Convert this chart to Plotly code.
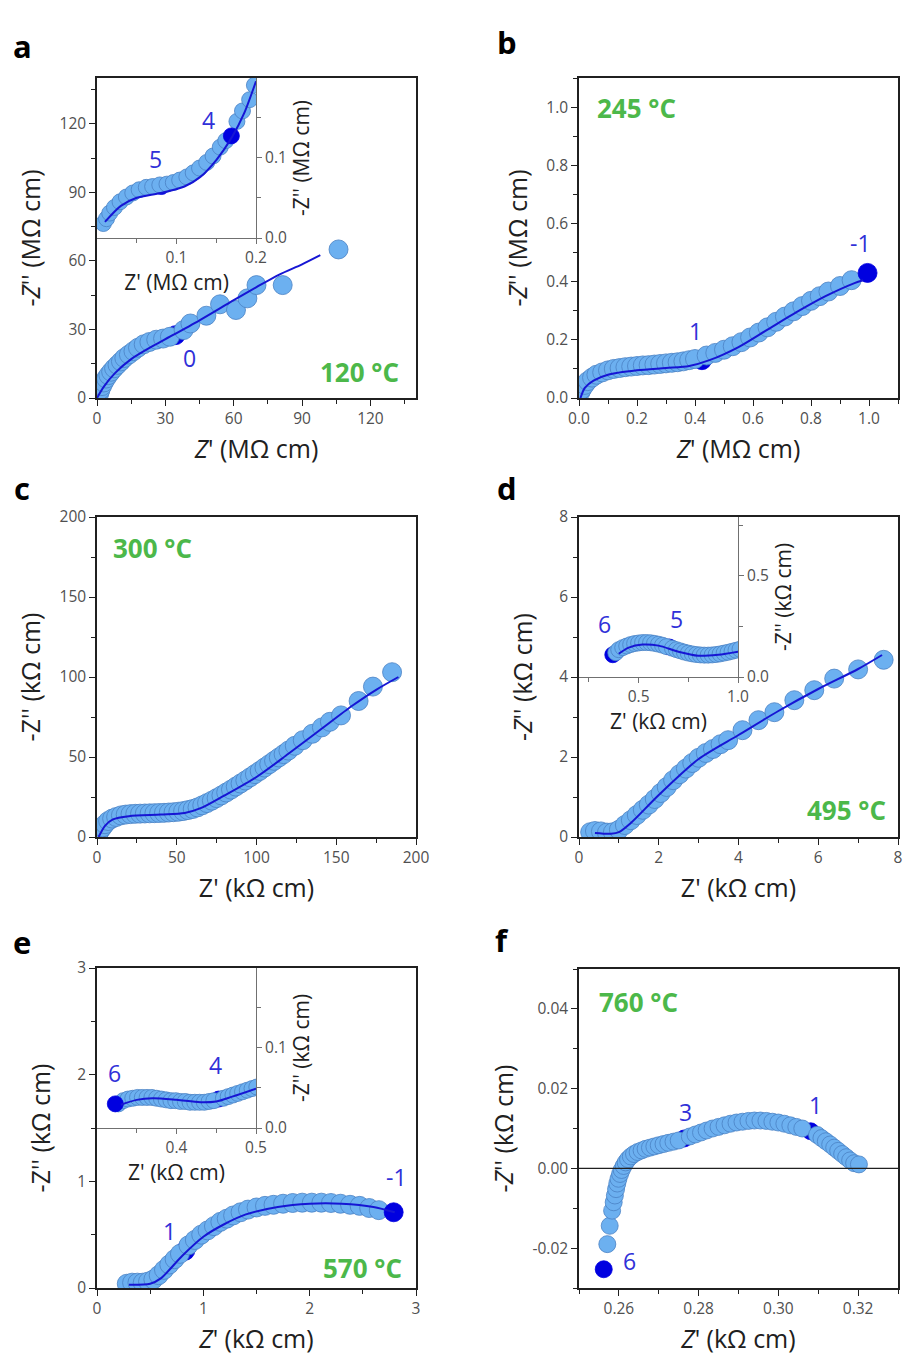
import plotly.graph_objects as go

W, H = 904, 1358

# ---------------- DATA ----------------
# Panel a (120 °C), MΩ cm
a_x = [1.0, 1.5, 2.2, 3.0, 4.0, 5.0, 6.2, 7.5, 9.0, 10.5, 12.0, 14.0, 16.0, 18.0, 20.5, 23.0, 26.0, 29.0, 32.0, 38.0, 41.0, 48.0, 54.0, 61.0, 66.0, 70.0, 81.5, 106.0]
a_y = [2.0, 3.5, 5.2, 6.8, 8.5, 10.0, 11.5, 13.0, 14.5, 16.0, 17.5, 19.0, 20.5, 22.0, 23.5, 24.5, 25.5, 26.0, 26.8, 29.7, 32.6, 36.0, 41.0, 38.5, 43.6, 49.4, 49.4, 65.0]
a_fit_x = [0, 3, 8, 15, 25, 32, 45, 60, 70, 80, 90, 98]
a_fit_y = [0, 5, 11, 17, 23, 26.8, 34, 42.8, 48.5, 54, 58.5, 62.5]
a_dec_x = [34.5]
a_dec_y = [27.5]
a_in_x = [0.008, 0.012, 0.016, 0.022, 0.029, 0.037, 0.045, 0.053, 0.062, 0.070, 0.079, 0.088, 0.096, 0.104, 0.113, 0.121, 0.129, 0.138, 0.146, 0.155, 0.162, 0.176, 0.183, 0.192, 0.198]
a_in_y = [0.018, 0.024, 0.031, 0.038, 0.045, 0.051, 0.056, 0.060, 0.063, 0.064, 0.066, 0.067, 0.069, 0.072, 0.076, 0.081, 0.087, 0.094, 0.102, 0.113, 0.121, 0.145, 0.158, 0.172, 0.190]
a_in_fit_x = [0.01, 0.03, 0.05, 0.08, 0.11, 0.13, 0.15, 0.17, 0.185, 0.2]
a_in_fit_y = [0.02, 0.04, 0.05, 0.056, 0.064, 0.076, 0.097, 0.126, 0.155, 0.195]
a_in_dec_x = [0.081]
a_in_dec_y = [0.064]
a_in_end_x = [0.169]
a_in_end_y = [0.127]

# Panel b (245 °C), MΩ cm
b_x = [0.005, 0.01, 0.02, 0.03, 0.045, 0.06, 0.08, 0.10, 0.12, 0.14, 0.16, 0.18, 0.20, 0.22, 0.24, 0.26, 0.28, 0.30, 0.32, 0.34, 0.36, 0.38, 0.40, 0.44, 0.47, 0.50, 0.53, 0.56, 0.59, 0.62, 0.65, 0.68, 0.71, 0.74, 0.77, 0.80, 0.83, 0.86, 0.90, 0.94]
b_y = [0.020, 0.030, 0.045, 0.058, 0.070, 0.080, 0.088, 0.095, 0.100, 0.103, 0.106, 0.108, 0.110, 0.112, 0.113, 0.115, 0.117, 0.119, 0.121, 0.123, 0.126, 0.130, 0.134, 0.146, 0.155, 0.166, 0.178, 0.192, 0.208, 0.225, 0.243, 0.262, 0.280, 0.298, 0.316, 0.334, 0.350, 0.366, 0.385, 0.405]
b_fit_x = [0.005, 0.02, 0.05, 0.10, 0.20, 0.30, 0.38, 0.45, 0.55, 0.65, 0.75, 0.85, 0.95, 0.98]
b_fit_y = [0.0, 0.035, 0.060, 0.080, 0.095, 0.103, 0.110, 0.130, 0.175, 0.235, 0.295, 0.350, 0.395, 0.405]
b_dec_x = [0.424]
b_dec_y = [0.130]
b_end_x = [0.995]
b_end_y = [0.430]

# Panel c (300 °C), kΩ cm
c_x = [1, 2, 3.5, 5, 7, 9.5, 12, 15, 18, 21, 24, 27, 30, 33, 36, 39, 42, 45, 48, 51, 54, 57, 60, 63, 66, 69, 72, 75, 78, 81, 84, 87, 90, 93, 96, 99, 102, 105, 108, 111, 114, 117, 120, 124, 129, 135, 141, 146, 153, 164, 173, 185]
c_y = [2, 4, 6, 8, 10, 11.5, 12.5, 13.5, 14, 14.3, 14.5, 14.6, 14.7, 14.8, 14.9, 15, 15.1, 15.3, 15.5, 15.8, 16.2, 16.8, 17.5, 18.5, 19.8, 21.2, 22.7, 24.3, 26, 27.8, 29.6, 31.5, 33.4, 35.3, 37.3, 39.3, 41.3, 43.4, 45.5, 47.6, 49.7, 51.8, 54, 57, 60.5, 64.5, 68.5, 72, 76, 85, 94, 103]
c_fit_x = [1, 5, 10, 20, 40, 55, 65, 80, 100, 120, 140, 160, 175, 189]
c_fit_y = [0, 7, 11, 13, 14, 15, 18, 26, 37.5, 52, 67, 82, 92, 100]

# Panel d (495 °C), kΩ cm
d_x = [0.28, 0.40, 0.55, 0.70, 0.85, 1.00, 1.15, 1.30, 1.45, 1.60, 1.75, 1.90, 2.05, 2.20, 2.36, 2.52, 2.68, 2.84, 3.00, 3.18, 3.36, 3.55, 3.74, 4.10, 4.50, 4.90, 5.40, 5.90, 6.40, 7.00, 7.64]
d_y = [0.12, 0.15, 0.14, 0.11, 0.12, 0.18, 0.30, 0.42, 0.55, 0.68, 0.81, 0.95, 1.10, 1.25, 1.42, 1.57, 1.71, 1.85, 1.98, 2.10, 2.20, 2.32, 2.42, 2.67, 2.92, 3.12, 3.42, 3.67, 3.96, 4.19, 4.43]
d_fit_x = [0.4, 0.8, 1.0, 1.3, 2.0, 3.0, 4.0, 5.0, 6.0, 7.0, 7.6]
d_fit_y = [0.10, 0.08, 0.12, 0.35, 1.05, 1.95, 2.55, 3.15, 3.70, 4.20, 4.55]
d_in_x = [0.385, 0.40, 0.42, 0.44, 0.46, 0.48, 0.50, 0.52, 0.54, 0.56, 0.58, 0.60, 0.62, 0.64, 0.67, 0.69, 0.71, 0.73, 0.75, 0.77, 0.79, 0.81, 0.83, 0.85, 0.87, 0.89, 0.91, 0.93, 0.95, 0.97, 0.99, 1.01]
d_in_y = [0.120, 0.135, 0.145, 0.153, 0.160, 0.165, 0.168, 0.170, 0.170, 0.169, 0.166, 0.162, 0.157, 0.150, 0.142, 0.135, 0.129, 0.123, 0.118, 0.114, 0.111, 0.109, 0.108, 0.108, 0.109, 0.111, 0.114, 0.118, 0.122, 0.127, 0.132, 0.137]
d_in_fit_x = [0.40, 0.45, 0.52, 0.60, 0.70, 0.80, 0.90, 1.00]
d_in_fit_y = [0.115, 0.145, 0.160, 0.155, 0.125, 0.105, 0.110, 0.125]
d_in_dec_x = [0.655]
d_in_dec_y = [0.148]
d_in_end_x = [0.37]
d_in_end_y = [0.11]

# Panel e (570 °C), kΩ cm
e_x = [0.28, 0.33, 0.38, 0.43, 0.48, 0.53, 0.58, 0.63, 0.68, 0.73, 0.78, 0.86, 0.92, 0.98, 1.04, 1.10, 1.16, 1.22, 1.28, 1.35, 1.42, 1.50, 1.58, 1.66, 1.75, 1.84, 1.93, 2.02, 2.11, 2.20, 2.29, 2.38, 2.47, 2.56, 2.65]
e_y = [0.04, 0.05, 0.05, 0.05, 0.06, 0.08, 0.12, 0.17, 0.22, 0.27, 0.32, 0.40, 0.45, 0.50, 0.54, 0.58, 0.62, 0.65, 0.68, 0.71, 0.735, 0.755, 0.77, 0.78, 0.79, 0.797, 0.80, 0.80, 0.80, 0.797, 0.79, 0.78, 0.77, 0.75, 0.73]
e_fit_x = [0.3, 0.5, 0.6, 0.8, 1.0, 1.2, 1.4, 1.7, 2.0, 2.3, 2.6, 2.8]
e_fit_y = [0.03, 0.04, 0.09, 0.30, 0.48, 0.60, 0.69, 0.76, 0.79, 0.79, 0.76, 0.71]
e_dec_x = [0.83]
e_dec_y = [0.35]
e_end_x = [2.79]
e_end_y = [0.71]
e_in_x = [0.327, 0.333, 0.339, 0.345, 0.351, 0.357, 0.363, 0.369, 0.375, 0.381, 0.387, 0.393, 0.399, 0.405, 0.411, 0.417, 0.423, 0.429, 0.435, 0.441, 0.447, 0.459, 0.465, 0.471, 0.477, 0.483, 0.489, 0.495, 0.501]
e_in_y = [0.030, 0.034, 0.036, 0.037, 0.038, 0.038, 0.038, 0.038, 0.037, 0.036, 0.035, 0.034, 0.034, 0.033, 0.033, 0.032, 0.032, 0.032, 0.032, 0.033, 0.034, 0.037, 0.039, 0.041, 0.043, 0.045, 0.047, 0.049, 0.051]
e_in_fit_x = [0.33, 0.35, 0.37, 0.40, 0.43, 0.45, 0.47, 0.50]
e_in_fit_y = [0.029, 0.035, 0.037, 0.035, 0.032, 0.033, 0.039, 0.049]
e_in_dec_x = [0.453]
e_in_dec_y = [0.036]
e_in_end_x = [0.323]
e_in_end_y = [0.030]

# Panel f (760 °C), kΩ cm
f_x = [0.2571, 0.2577, 0.2583, 0.2587, 0.2590, 0.2593, 0.2596, 0.2599, 0.2603, 0.2607, 0.2612, 0.2617, 0.2623, 0.2630, 0.2638, 0.2647, 0.2657, 0.2667, 0.2678, 0.2689, 0.2700, 0.2712, 0.2724, 0.2737, 0.2750, 0.2778, 0.2792, 0.2806, 0.2820, 0.2835, 0.2850, 0.2865, 0.2880, 0.2895, 0.2910, 0.2925, 0.2940, 0.2955, 0.2970, 0.2985, 0.3000, 0.3015, 0.3030, 0.3045, 0.3060, 0.3097, 0.3108, 0.3119, 0.3130, 0.3140, 0.3150, 0.3160, 0.3170, 0.3180, 0.3190, 0.3202]
f_y = [-0.0190, -0.0144, -0.0106, -0.0085, -0.0068, -0.0052, -0.0038, -0.0026, -0.0014, -0.0004, 0.0006, 0.0015, 0.0023, 0.0030, 0.0036, 0.0041, 0.0045, 0.0049, 0.0052, 0.0055, 0.0058, 0.0061, 0.0064, 0.0067, 0.0070, 0.0080, 0.0085, 0.0090, 0.0095, 0.0100, 0.0104, 0.0108, 0.0112, 0.0115, 0.0117, 0.0119, 0.0120, 0.0120, 0.0119, 0.0117, 0.0115, 0.0112, 0.0108, 0.0104, 0.0100, 0.0084, 0.0076, 0.0068, 0.0060, 0.0052, 0.0044, 0.0036, 0.0028, 0.0020, 0.0013, 0.0010]
f_dec_x = [0.2764, 0.3081]
f_dec_y = [0.0075, 0.0093]
f_end_x = [0.2562]
f_end_y = [-0.0253]

# ---------------- STYLE ----------------
LIGHT = "#6cb0f0"
LIGHT_EDGE = "#4a82c4"
DARK = "#0000e0"
FIT = "#1616d4"
NUM = "#3030d8"
GREEN = "#4cb84a"
FONT = "Open Sans"

fig = go.Figure()


def dom(px0, px1, total, flip=False):
    if flip:
        return [1 - px1 / total, 1 - px0 / total]
    return [px0 / total, px1 / total]


def add_set(xa, ya, xs, ys, kind, size=19):
    if kind == "light":
        fig.add_trace(go.Scatter(x=xs, y=ys, xaxis=xa, yaxis=ya, mode="markers",
                                 marker=dict(size=size, color=LIGHT, line=dict(color=LIGHT_EDGE, width=0.8)),
                                 showlegend=False, hoverinfo="skip"))
    elif kind == "dark":
        fig.add_trace(go.Scatter(x=xs, y=ys, xaxis=xa, yaxis=ya, mode="markers",
                                 marker=dict(size=size, color=DARK, line=dict(color=DARK, width=0.8)),
                                 showlegend=False, hoverinfo="skip"))
    elif kind == "fit":
        fig.add_trace(go.Scatter(x=xs, y=ys, xaxis=xa, yaxis=ya, mode="lines",
                                 line=dict(color=FIT, width=2, shape="spline", smoothing=0.8),
                                 showlegend=False, hoverinfo="skip"))


MS = 19   # main marker size
IS = 16   # inset marker size
FS = 17   # panel f marker size

# panel a
add_set("x", "y", a_dec_x, a_dec_y, "dark", MS)
add_set("x", "y", a_x, a_y, "light", MS)
add_set("x", "y", a_fit_x, a_fit_y, "fit")
add_set("x7", "y7", a_in_dec_x, a_in_dec_y, "dark", IS)
add_set("x7", "y7", a_in_x, a_in_y, "light", IS)
add_set("x7", "y7", a_in_end_x, a_in_end_y, "dark", IS)
add_set("x7", "y7", a_in_fit_x, a_in_fit_y, "fit")
# panel b
add_set("x2", "y2", b_dec_x, b_dec_y, "dark", MS)
add_set("x2", "y2", b_x, b_y, "light", MS)
add_set("x2", "y2", b_end_x, b_end_y, "dark", MS)
add_set("x2", "y2", b_fit_x, b_fit_y, "fit")
# panel c
add_set("x3", "y3", c_x, c_y, "light", MS)
add_set("x3", "y3", c_fit_x, c_fit_y, "fit")
# panel d
add_set("x4", "y4", d_x, d_y, "light", MS)
add_set("x4", "y4", d_fit_x, d_fit_y, "fit")
add_set("x8", "y8", d_in_dec_x, d_in_dec_y, "dark", IS)
add_set("x8", "y8", d_in_end_x, d_in_end_y, "dark", IS)
add_set("x8", "y8", d_in_x, d_in_y, "light", IS)
add_set("x8", "y8", d_in_fit_x, d_in_fit_y, "fit")
# panel e
add_set("x5", "y5", e_dec_x, e_dec_y, "dark", MS)
add_set("x5", "y5", e_x, e_y, "light", MS)
add_set("x5", "y5", e_end_x, e_end_y, "dark", MS)
add_set("x5", "y5", e_fit_x, e_fit_y, "fit")
add_set("x9", "y9", e_in_dec_x, e_in_dec_y, "dark", IS)
add_set("x9", "y9", e_in_x, e_in_y, "light", IS)
add_set("x9", "y9", e_in_end_x, e_in_end_y, "dark", IS)
add_set("x9", "y9", e_in_fit_x, e_in_fit_y, "fit")
# panel f
add_set("x6", "y6", f_dec_x, f_dec_y, "dark", FS)
add_set("x6", "y6", f_x, f_y, "light", FS)
add_set("x6", "y6", f_end_x, f_end_y, "dark", FS)

TICKFONT = dict(family=FONT, size=15.5, color="#505050")
TITLEFONT = dict(family=FONT, size=25, color="#202020")


def main_axis(rng, dtick, minor, dom_px, total, flip, title, standoff, tickvals=None, ticktext=None, fmt=None):
    ax = dict(range=rng, domain=dom(dom_px[0], dom_px[1], total, flip), automargin=False,
              showline=True, linecolor="#202020", linewidth=1.5, mirror=True,
              ticks="outside", ticklen=6, tickwidth=1.3, tickcolor="#202020",
              minor=dict(dtick=minor, ticks="outside", ticklen=4, tickwidth=1.2, tickcolor="#202020"),
              showgrid=False, zeroline=False, tickfont=TICKFONT,
              title=dict(text=title, font=TITLEFONT, standoff=standoff))
    if tickvals is not None:
        ax["tickmode"] = "array"
        ax["tickvals"] = tickvals
        ax["ticktext"] = ticktext
    else:
        ax["dtick"] = dtick
        ax["tick0"] = 0
    if fmt:
        ax["tickformat"] = fmt
    return ax


def inset_axis(rng, tickvals, ticktext, minor, dom_px, total, flip, title, side, anchor, standoff):
    return dict(range=rng, domain=dom(dom_px[0], dom_px[1], total, flip), automargin=False,
                showline=True, linecolor="#707070", linewidth=1, mirror=False,
                ticks="outside", ticklen=5, tickwidth=1, tickcolor="#707070",
                tickmode="array", tickvals=tickvals, ticktext=ticktext,
                minor=dict(tickvals=minor, ticks="outside", ticklen=4, tickwidth=1, tickcolor="#707070"),
                showgrid=False, zeroline=False, tickfont=TICKFONT, side=side, anchor=anchor,
                title=dict(text=title, font=dict(family=FONT, size=21, color="#202020"), standoff=standoff))


Mo = "MΩ cm"
ko = "kΩ cm"
layout = dict(width=W, height=H, margin=dict(l=0, r=0, t=0, b=0, pad=0, autoexpand=False),
              paper_bgcolor="white", plot_bgcolor="rgba(0,0,0,0)", showlegend=False)

XS = 12  # x-title standoff
YS = 12  # y-title standoff

# main axes
layout["xaxis"] = main_axis([0, 140], 30, 15, (97, 416), W, False, f"<i>Z</i>' ({Mo})", XS)
layout["yaxis"] = main_axis([0, 140], 30, 15, (78, 398), H, True, f"-<i>Z</i>'' ({Mo})", YS)
layout["xaxis"]["anchor"] = "y"; layout["yaxis"]["anchor"] = "x"

layout["xaxis2"] = main_axis([0, 1.1], 0.2, 0.1, (579, 898), W, False, f"<i>Z</i>' ({Mo})", XS, fmt=".1f")
layout["yaxis2"] = main_axis([0, 1.1], 0.2, 0.1, (78, 398), H, True, f"-<i>Z</i>'' ({Mo})", YS, fmt=".1f")
layout["xaxis2"]["anchor"] = "y2"; layout["yaxis2"]["anchor"] = "x2"

layout["xaxis3"] = main_axis([0, 200], 50, 25, (97, 416), W, False, f"Z' ({ko})", XS)
layout["yaxis3"] = main_axis([0, 200], 50, 25, (517, 837), H, True, f"-Z'' ({ko})", YS)
layout["xaxis3"]["anchor"] = "y3"; layout["yaxis3"]["anchor"] = "x3"

layout["xaxis4"] = main_axis([0, 8], 2, 1, (579, 898), W, False, f"Z' ({ko})", XS)
layout["yaxis4"] = main_axis([0, 8], 2, 1, (517, 837), H, True, f"-<i>Z</i>'' ({ko})", YS + 8)
layout["xaxis4"]["anchor"] = "y4"; layout["yaxis4"]["anchor"] = "x4"

layout["xaxis5"] = main_axis([0, 3], 1, 0.5, (97, 416), W, False, f"<i>Z</i>' ({ko})", XS)
layout["yaxis5"] = main_axis([0, 3], 1, 0.5, (968, 1288), H, True, f"-Z'' ({ko})", YS + 8)
layout["xaxis5"]["anchor"] = "y5"; layout["yaxis5"]["anchor"] = "x5"

layout["xaxis6"] = main_axis([0.25, 0.33], 0.02, 0.01, (579, 898), W, False, f"<i>Z</i>' ({ko})", XS, fmt=".2f")
f_ytick_vals = [-0.02, 0.0, 0.02, 0.04]
f_ytick_text = ["-0.02", "0.00", "0.02", "0.04"]
layout["yaxis6"] = main_axis([-0.03, 0.05], None, 0.01, (969, 1288), H, True, f"-<i>Z</i>'' ({ko})", YS,
                             tickvals=f_ytick_vals, ticktext=f_ytick_text)
layout["yaxis6"]["minor"]["tick0"] = 0
layout["xaxis6"]["tick0"] = 0.26
layout["xaxis6"]["minor"]["tick0"] = 0.25
layout["xaxis6"]["anchor"] = "y6"; layout["yaxis6"]["anchor"] = "x6"

# inset axes
layout["xaxis7"] = inset_axis([0, 0.2], [0.1, 0.2], ["0.1", "0.2"], [0.05, 0.15], (97, 256), W, False, f"Z' ({Mo})", "bottom", "y7", 6)
layout["yaxis7"] = inset_axis([0, 0.199], [0.0, 0.1], ["0.0", "0.1"], [0.05, 0.15], (78, 238), H, True, f"-Z'' ({Mo})", "right", "x7", 8)

layout["xaxis8"] = inset_axis([0.2, 1.0], [0.5, 1.0], ["0.5", "1.0"], [0.25, 0.75], (579, 738), W, False, f"Z' ({ko})", "bottom", "y8", 6)
layout["yaxis8"] = inset_axis([0, 0.79], [0.0, 0.5], ["0.0", "0.5"], [0.25, 0.75], (517, 677), H, True, f"-Z'' ({ko})", "right", "x8", 8)

layout["xaxis9"] = inset_axis([0.3, 0.5], [0.4, 0.5], ["0.4", "0.5"], [0.35, 0.45], (97, 256), W, False, f"Z' ({ko})", "bottom", "y9", 6)
layout["yaxis9"] = inset_axis([0, 0.199], [0.0, 0.1], ["0.0", "0.1"], [0.05, 0.15], (968, 1128), H, True, f"-Z'' ({ko})", "right", "x9", 8)

fig.update_layout(**layout)

# zero line in panel f
fig.add_shape(type="line", xref="x6 domain", yref="y6", x0=0, x1=1, y0=0, y1=0,
              line=dict(color="#202020", width=1.3))


def num(xr, yr, x, y, t):
    fig.add_annotation(xref=xr, yref=yr, x=x, y=y, text=t, showarrow=False,
                       font=dict(family=FONT, size=23, color=NUM))


def temp(xr, yr, x, y, t):
    fig.add_annotation(xref=xr, yref=yr, x=x, y=y, text=f"<b>{t}</b>", showarrow=False,
                       font=dict(family=FONT, size=26, color=GREEN))


num("x", "y", 40.7, 17.5, "0")
num("x7", "y7", 0.073, 0.098, "5")
num("x7", "y7", 0.140, 0.147, "4")
num("x2", "y2", 0.403, 0.23, "1")
num("x2", "y2", 0.969, 0.533, "-1")
num("x8", "y8", 0.33, 0.26, "6")
num("x8", "y8", 0.69, 0.285, "5")
num("x5", "y5", 0.686, 0.536, "1")
num("x5", "y5", 2.82, 1.04, "-1")
num("x9", "y9", 0.322, 0.068, "6")
num("x9", "y9", 0.449, 0.078, "4")
num("x6", "y6", 0.2768, 0.0141, "3")
num("x6", "y6", 0.3093, 0.0160, "1")
num("x6", "y6", 0.2627, -0.0232, "6")

temp("x", "y", 115, 11.4, "120 °C")
temp("x2", "y2", 0.197, 0.997, "245 °C")
temp("x3", "y3", 34.5, 180.6, "300 °C")
temp("x4", "y4", 6.7, 0.68, "495 °C")
temp("x5", "y5", 2.5, 0.19, "570 °C")
temp("x6", "y6", 0.2648, 0.0417, "760 °C")

for letter, px, py in [("a", 22, 46), ("b", 507, 42), ("c", 22, 488), ("d", 507, 488), ("e", 22, 942), ("f", 502, 940)]:
    fig.add_annotation(xref="paper", yref="paper", x=px / W, y=1 - py / H, text=f"<b>{letter}</b>",
                       showarrow=False, xanchor="center", yanchor="middle",
                       font=dict(family=FONT, size=31, color="black"))

fig.write_html("out.html")
